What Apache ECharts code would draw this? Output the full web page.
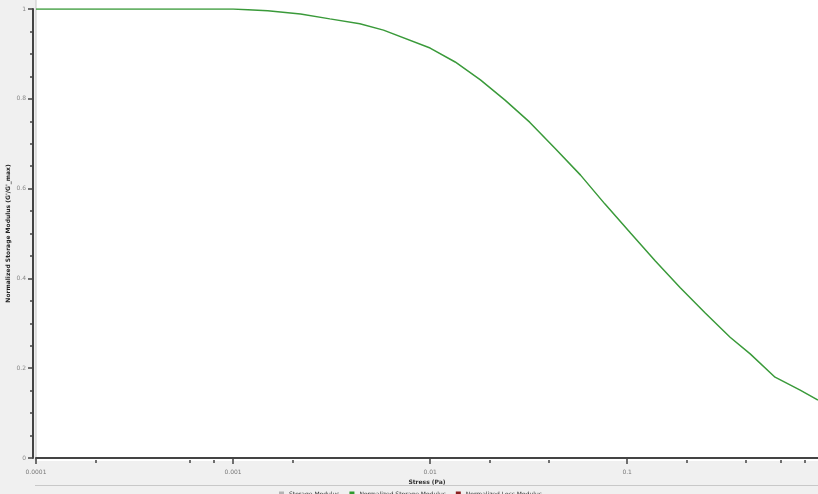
<!DOCTYPE html>
<html>
<head>
<meta charset="utf-8">
<script src="https://cdn.jsdelivr.net/npm/echarts@6/dist/echarts.min.js"></script>
<style>
html,body{margin:0;padding:0;background:#f0f0f0;}
#chart{width:818px;height:494px;}
</style>
</head>
<body>
<div id="chart"></div>
<script>
// ---- data ----
const stressValues = [0.0001, 0.0003, 0.001, 0.0015, 0.0022, 0.0031, 0.0044, 0.0058, 0.01, 0.0134, 0.018, 0.024, 0.032, 0.043, 0.058, 0.077, 0.104, 0.139, 0.186, 0.249, 0.333, 0.421, 0.563, 0.755, 0.93];
const normModulus  = [1.0, 1.0, 1.0, 0.996, 0.989, 0.978, 0.967, 0.953, 0.913, 0.882, 0.842, 0.797, 0.748, 0.690, 0.630, 0.566, 0.501, 0.439, 0.379, 0.323, 0.269, 0.232, 0.180, 0.151, 0.129];
const xMajorTicks = [0.0001, 0.001, 0.01, 0.1];
const xTickLabels = ['0.0001', '0.001', '0.01', '0.1'];
const xMinorTicks = [0.0002, 0.0006, 0.0008, 0.002, 0.02, 0.04, 0.2, 0.4, 0.6, 0.8];
const yTickLabels = ['0', '0.2', '0.4', '0.6', '0.8', '1'];
const legendNames = ['Storage Modulus', 'Normalized Storage Modulus', 'Normalized Loss Modulus'];
const xTitle = 'Stress (Pa)';
const yTitle = "Normalized Storage Modulus (G'/G'_max)";

const chart = echarts.init(document.getElementById('chart'));
const font = 'DejaVu Sans';

const option = {
  backgroundColor: '#f0f0f0',
  animation: false,
  textStyle: { fontFamily: font },
  graphic: [
    { type: 'rect', z: -10, silent: true, shape: { x: 36, y: 0, width: 782, height: 461 }, style: { fill: '#ffffff' } },
    { type: 'line', z: -5, silent: true, shape: { x1: 36, y1: 0, x2: 36, y2: 461 }, style: { stroke: '#c8c8c8', lineWidth: 1 } },
    { type: 'line', z: -5, silent: true, shape: { x1: 35, y1: 485.5, x2: 818, y2: 485.5 }, style: { stroke: '#c8c8c8', lineWidth: 1 } }
  ],
  grid: { left: 36, right: 0, top: 9, bottom: 36, containLabel: false, outerBoundsMode: 'none' },
  legend: {
    top: 486, left: 274,
    icon: 'rect', itemWidth: 5, itemHeight: 5, itemGap: 10,
    textStyle: { fontSize: 6, color: '#333', fontFamily: font },
    data: legendNames
  },
  xAxis: [{
    type: 'log', logBase: 10, min: 0.0001, max: 0.93,
    offset: 5,
    name: xTitle, nameLocation: 'middle', nameGap: 16, nameMoveOverlap: false,
    nameTextStyle: { fontSize: 6, fontWeight: 'bold', color: '#333', fontFamily: font },
    axisLine: { show: true, lineStyle: { color: '#444', width: 2 } },
    axisTick: { show: true, customValues: xMajorTicks, length: 6, lineStyle: { color: '#444', width: 1.5 } },
    minorTick: { show: false },
    axisLabel: {
      customValues: xMajorTicks, fontSize: 6, color: '#777', margin: 6, fontFamily: font,
      formatter: function (v) {
        const i = xMajorTicks.findIndex(t => Math.abs(Math.log10(t) - Math.log10(v)) < 1e-6);
        return i >= 0 ? xTickLabels[i] : '';
      }
    },
    splitLine: { show: false }
  }, {
    type: 'log', logBase: 10, min: 0.0001, max: 0.93,
    offset: 5, position: 'bottom',
    axisLine: { show: false },
    axisTick: { show: true, inside: true, customValues: xMinorTicks, length: 3, lineStyle: { color: '#444', width: 1.5 } },
    axisLabel: { show: false },
    splitLine: { show: false }
  }],
  yAxis: {
    type: 'value', min: 0, max: 1, interval: 0.2,
    offset: 3,
    name: yTitle, nameLocation: 'middle', nameGap: 22, nameRotate: 90, nameMoveOverlap: false,
    nameTextStyle: { fontSize: 6, fontWeight: 'bold', color: '#222', fontFamily: font },
    axisLine: { show: true, lineStyle: { color: '#444', width: 2 } },
    axisTick: { show: true, length: 5, lineStyle: { color: '#444', width: 1.5 } },
    minorTick: { show: true, splitNumber: 4, length: 3, lineStyle: { color: '#444', width: 1.5 } },
    axisLabel: {
      fontSize: 6, color: '#888', margin: 7, fontFamily: font,
      formatter: function (v) { return yTickLabels[Math.round(v / 0.2)]; }
    },
    splitLine: { show: false }
  },
  series: [
    { name: legendNames[0], type: 'line', data: [], itemStyle: { color: '#b4b4b4' }, symbol: 'none' },
    {
      name: legendNames[1], type: 'line', xAxisIndex: 0, symbol: 'none', smooth: false,
      itemStyle: { color: '#2e9a2e' },
      lineStyle: { color: '#3a9a3a', width: 1.5 },
      data: stressValues.map((x, i) => [x, normModulus[i]])
    },
    { name: legendNames[2], type: 'line', data: [], itemStyle: { color: '#8a1f1f' }, symbol: 'none' }
  ]
};
chart.setOption(option);
</script>
</body>
</html>
